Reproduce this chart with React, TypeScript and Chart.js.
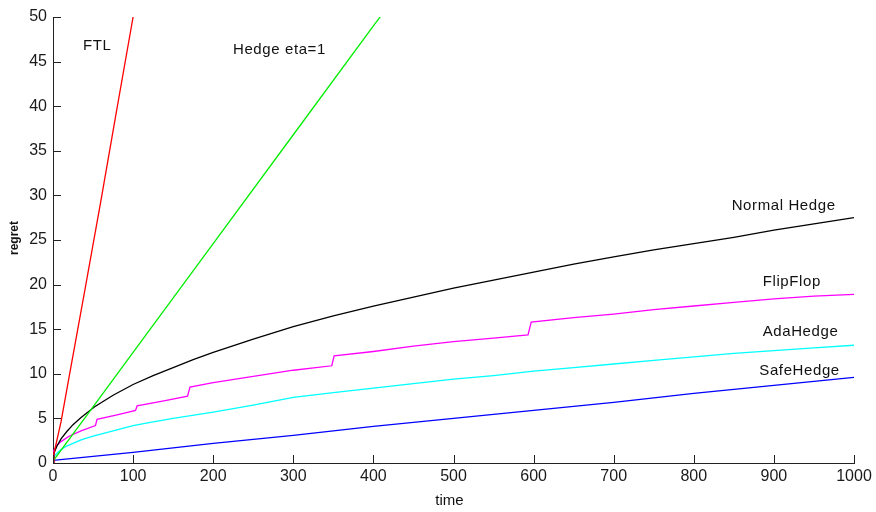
import React, { useEffect, useRef } from "react";
import { Chart, registerables } from "chart.js";

Chart.register(...registerables);

// ---- data ----
const ftlTime = [0, 1, 10, 20, 40, 60, 80, 100, 102];
const ftlRegret = [0, 1.0, 4.6, 9.6, 19.5, 29.5, 39.8, 50, 51];

const hedgeTime = [0, 50, 100, 200, 300, 400, 410];
const hedgeRegret = [0.2, 6.3, 12.4, 24.6, 36.8, 49.0, 50.2];

const normalTime = [0, 1, 3, 5, 10, 17, 25, 35, 52, 75, 100, 125, 150, 175, 200, 250, 300, 350, 400, 450, 500, 550, 600, 650, 700, 750, 800, 850, 900, 950, 1000];
const normalRegret = [0, 1.0, 1.5, 1.9, 2.7, 3.5, 4.3, 5.1, 6.3, 7.6, 8.8, 9.8, 10.7, 11.6, 12.4, 13.9, 15.3, 16.5, 17.6, 18.6, 19.6, 20.5, 21.4, 22.3, 23.1, 23.9, 24.6, 25.3, 26.1, 26.8, 27.5];

const flipTime = [0, 1, 5, 10, 20, 35, 53, 55, 80, 103, 105, 140, 168, 171, 200, 250, 300, 348, 351, 400, 450, 500, 550, 593, 597, 650, 700, 750, 800, 850, 900, 950, 1000];
const flipRegret = [0, 1.4, 2.0, 2.4, 3.0, 3.6, 4.2, 4.9, 5.4, 5.9, 6.4, 7.0, 7.5, 8.5, 9.0, 9.7, 10.4, 10.9, 12.0, 12.5, 13.1, 13.6, 14.0, 14.35, 15.8, 16.3, 16.7, 17.2, 17.6, 18.0, 18.4, 18.7, 18.9];

const adaTime = [0, 2, 5, 10, 17, 25, 35, 50, 75, 100, 125, 150, 200, 250, 300, 350, 400, 450, 500, 550, 600, 650, 700, 750, 800, 850, 900, 950, 1000];
const adaRegret = [0.4, 0.8, 1.1, 1.5, 1.9, 2.2, 2.6, 3.0, 3.6, 4.2, 4.6, 5.0, 5.7, 6.5, 7.35, 7.9, 8.4, 8.9, 9.4, 9.8, 10.3, 10.7, 11.1, 11.5, 11.9, 12.3, 12.6, 12.9, 13.2];

const safeTime = [0, 100, 200, 300, 400, 500, 600, 700, 800, 900, 1000];
const safeRegret = [0.3, 1.2, 2.2, 3.1, 4.1, 5.0, 5.9, 6.8, 7.8, 8.7, 9.6];

const seriesNames = ["FTL", "Hedge eta=1", "Normal Hedge", "FlipFlop", "AdaHedge", "SafeHedge"];
const seriesColors = ["#ff0000", "#00ee00", "#000000", "#ff00ff", "#00ffff", "#0000ff"];

// text labels placed in data coordinates (time, regret)
const labelTexts = ["FTL", "Hedge eta=1", "Normal Hedge", "FlipFlop", "AdaHedge", "SafeHedge"];
const labelTime = [37.5, 224.7, 847.3, 886, 886, 881.8];
const labelRegret = [46.3, 45.85, 28.36, 19.84, 14.27, 9.87];

const xTickStep = 100;
const yTickStep = 5;
const xMax = 1000;
const yMax = 50;

const FONT = "'Liberation Sans', Arial, sans-serif";

function pts(t: number[], v: number[]) {
  return t.map((x, i) => ({ x, y: v[i] }));
}

const decorPlugin = {
  id: "decor",
  afterDraw(chart: any) {
    const { ctx, chartArea, scales } = chart;
    const xs = scales.x;
    const ys = scales.y;
    ctx.save();
    // inward tick marks
    ctx.strokeStyle = "#222";
    ctx.lineWidth = 1;
    const tl = 8;
    ctx.beginPath();
    for (let v = 0; v <= xMax; v += xTickStep) {
      const px = Math.round(xs.getPixelForValue(v)) + 0.5;
      ctx.moveTo(px, chartArea.bottom);
      ctx.lineTo(px, chartArea.bottom - tl);
    }
    for (let v = 0; v <= yMax; v += yTickStep) {
      const py = Math.round(ys.getPixelForValue(v)) + 0.5;
      ctx.moveTo(chartArea.left, py);
      ctx.lineTo(chartArea.left + tl, py);
    }
    ctx.stroke();

    // series labels
    ctx.fillStyle = "#111";
    ctx.font = `15px ${FONT}`;
    ctx.textAlign = "left";
    ctx.textBaseline = "alphabetic";
    (ctx as any).letterSpacing = "0.6px";
    labelTexts.forEach((txt, i) => {
      ctx.fillText(txt, xs.getPixelForValue(labelTime[i]), ys.getPixelForValue(labelRegret[i]));
    });
    (ctx as any).letterSpacing = "0px";

    // axis titles
    ctx.font = `15px ${FONT}`;
    ctx.textAlign = "center";
    ctx.fillText("time", (chartArea.left + chartArea.right) / 2 - 4, 505);
    ctx.save();
    ctx.translate(18, (chartArea.top + chartArea.bottom) / 2 - 2);
    ctx.rotate(-Math.PI / 2);
    ctx.font = `bold 12px ${FONT}`;
    ctx.fillText("regret", 0, 0);
    ctx.restore();
    ctx.restore();
  },
};

export default function App() {
  const ref = useRef<HTMLCanvasElement | null>(null);
  useEffect(() => {
    if (!ref.current) return;
    const dataSets = [
      pts(ftlTime, ftlRegret),
      pts(hedgeTime, hedgeRegret),
      pts(normalTime, normalRegret),
      pts(flipTime, flipRegret),
      pts(adaTime, adaRegret),
      pts(safeTime, safeRegret),
    ];
    const chart = new Chart(ref.current, {
      type: "line",
      data: {
        datasets: dataSets.map((d, i) => ({
          label: seriesNames[i],
          data: d,
          borderColor: seriesColors[i],
          backgroundColor: seriesColors[i],
          borderWidth: 1.3,
          pointRadius: 0,
          tension: 0,
          fill: false,
        })),
      },
      options: {
        animation: false,
        responsive: true,
        maintainAspectRatio: false,
        layout: { padding: { top: 17, right: 22, left: 0, bottom: 0 } },
        plugins: { legend: { display: false }, tooltip: { enabled: false } },
        scales: {
          x: {
            type: "linear",
            min: 0,
            max: xMax,
            grid: { display: false, drawTicks: false },
            border: { display: true, color: "#222", width: 1 },
            ticks: {
              stepSize: xTickStep,
              color: "#1a1a1a",
              font: { family: FONT, size: 16 },
              padding: 4,
              maxRotation: 0,
              autoSkip: false,
              callback: (v: any) => String(v),
            },
            afterFit: (s: any) => {
              s.height = 49;
            },
          },
          y: {
            type: "linear",
            min: 0,
            max: yMax,
            grid: { display: false, drawTicks: false },
            border: { display: true, color: "#222", width: 1 },
            ticks: {
              stepSize: yTickStep,
              color: "#1a1a1a",
              font: { family: FONT, size: 16 },
              padding: 6,
              callback: (v: any) => String(v),
            },
            afterFit: (s: any) => {
              s.width = 53;
            },
          },
        },
      },
      plugins: [decorPlugin],
    });
    return () => chart.destroy();
  }, []);
  return (
    <div style={{ position: "fixed", left: 0, top: 0, width: 876, height: 512, background: "#fff" }}>
      <canvas ref={ref} />
    </div>
  );
}
